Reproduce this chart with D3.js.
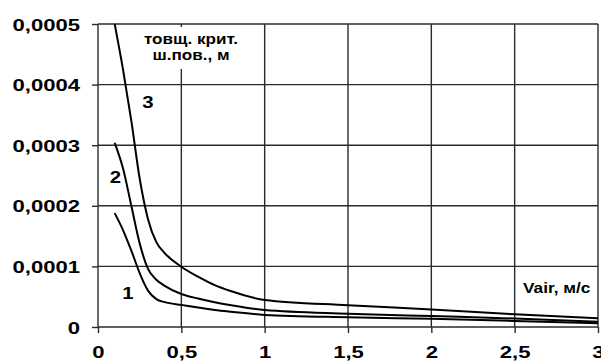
<!DOCTYPE html>
<html lang="en">

<head>
  <meta charset="UTF-8">
  <script src="https://d3js.org/d3.v7.min.js"></script>
  <style>
    body { margin: 0; background: #fff; }
    text { font-family: "Liberation Sans", Arial, sans-serif; font-weight: bold; fill: #000; }
  </style>
</head>

<body>
  <svg id="chart" width="601" height="361"></svg>

  <script>
    // data
    const vAir = [0.1, 0.15, 0.2, 0.25, 0.3, 0.35, 0.4, 0.5, 0.6, 0.7, 0.8, 1.0, 1.5, 2.0, 2.5, 3.0];
    const curve1 = [0.000188, 0.000160, 0.000126, 0.000089, 0.000060, 0.000046, 0.000041, 0.0000365, 0.000032, 0.000028, 0.000025, 0.000020, 0.000016, 0.0000135, 0.000010, 0.000006];
    const curve2 = [0.000304, 0.000262, 0.000200, 0.000138, 0.000096, 0.000078, 0.000068, 0.0000545, 0.000047, 0.000041, 0.000036, 0.000028, 0.000022, 0.000018, 0.000014, 0.0000088];
    const curve3 = [0.000500, 0.000425, 0.000340, 0.000245, 0.000178, 0.000140, 0.000122, 0.0000995, 0.000083, 0.000069, 0.000059, 0.0000446, 0.000036, 0.000029, 0.000021, 0.0000143];
    const curveNames = ["1", "2", "3"];
    // where each number sits next to its curve (x value, y value)
    const curveLabelPos = [[0.18, 0.000046], [0.105, 0.000237], [0.3, 0.000362]];

    const xTicks = [0, 0.5, 1, 1.5, 2, 2.5, 3];
    const xTickLabels = ["0", "0,5", "1", "1,5", "2", "2,5", "3"];
    const yTicks = [0, 0.0001, 0.0002, 0.0003, 0.0004, 0.0005];
    const yTickLabels = ["0", "0,0001", "0,0002", "0,0003", "0,0004", "0,0005"];

    const svg = d3.select("#chart");
    const plotLeft = 98, plotRight = 598, plotTop = 24, plotBottom = 327;

    const x = d3.scaleLinear().domain([0, 3]).range([plotLeft, plotRight]);
    const y = d3.scaleLinear().domain([0, 0.0005]).range([plotBottom, plotTop]);

    // grid
    const grid = svg.append("g").attr("stroke", "#2a2a2a").attr("stroke-width", 1.4);
    grid.selectAll("line.v").data(xTicks)
      .join("line")
      .attr("class", "v")
      .attr("x1", d => x(d)).attr("x2", d => x(d))
      .attr("y1", plotTop).attr("y2", plotBottom);
    grid.selectAll("line.h").data(yTicks)
      .join("line")
      .attr("class", "h")
      .attr("x1", plotLeft).attr("x2", plotRight)
      .attr("y1", d => y(d)).attr("y2", d => y(d));

    // axes (tick marks + labels)
    const xAxis = svg.append("g")
      .attr("transform", "translate(0," + plotBottom + ")")
      .call(d3.axisBottom(x).tickValues(xTicks).tickSize(6).tickSizeOuter(0)
        .tickFormat((d, i) => xTickLabels[i]));
    const yAxis = svg.append("g")
      .attr("transform", "translate(" + plotLeft + ",0)")
      .call(d3.axisLeft(y).tickValues(yTicks).tickSize(6).tickSizeOuter(0)
        .tickFormat((d, i) => yTickLabels[i]));

    [xAxis, yAxis].forEach(a => {
      a.select(".domain").remove();
      a.selectAll(".tick line").attr("stroke", "#2a2a2a").attr("stroke-width", 1.4);
      a.selectAll("text").attr("font-size", 17).attr("fill", "#000")
        .style("font-family", "'Liberation Sans', Arial, sans-serif").style("font-weight", "bold");
    });
    xAxis.selectAll("text").attr("y", 31).attr("dy", 0).attr("transform", "scale(1.3,1)");
    yAxis.selectAll("text").attr("x", -18 / 1.3).attr("dy", "0.36em").attr("transform", "scale(1.3,1)");

    // curves
    const line = d3.line()
      .x((d, i) => x(vAir[i]))
      .y(d => y(d))
      .curve(d3.curveMonotoneX);

    svg.selectAll("path.curve").data([curve1, curve2, curve3])
      .join("path")
      .attr("class", "curve")
      .attr("d", line)
      .attr("fill", "none")
      .attr("stroke", "#000")
      .attr("stroke-width", 2);

    // curve numbers
    svg.selectAll("g.cname").data(curveNames)
      .join("g")
      .attr("class", "cname")
      .attr("transform", (d, i) => "translate(" + x(curveLabelPos[i][0]) + "," + y(curveLabelPos[i][1]) + ") scale(1.2,1)")
      .append("text")
      .attr("text-anchor", "middle")
      .attr("font-size", 17)
      .text(d => d);

    // y axis title, boxed over the grid
    svg.append("rect")
      .attr("x", 148).attr("y", 27).attr("width", 88).attr("height", 42)
      .attr("fill", "#fff");
    const yTitle = svg.append("g").attr("transform", "translate(191,0) scale(1.14,1)");
    yTitle.append("text").attr("text-anchor", "middle").attr("y", 44).attr("font-size", 15).text("товщ. крит.");
    yTitle.append("text").attr("text-anchor", "middle").attr("y", 60).attr("font-size", 15).text("ш.пов., м");

    // x axis title
    svg.append("g").attr("transform", "translate(523,293) scale(1.15,1)")
      .append("text").attr("font-size", 15).text("Vair, м/с");
  </script>
</body>

</html>
